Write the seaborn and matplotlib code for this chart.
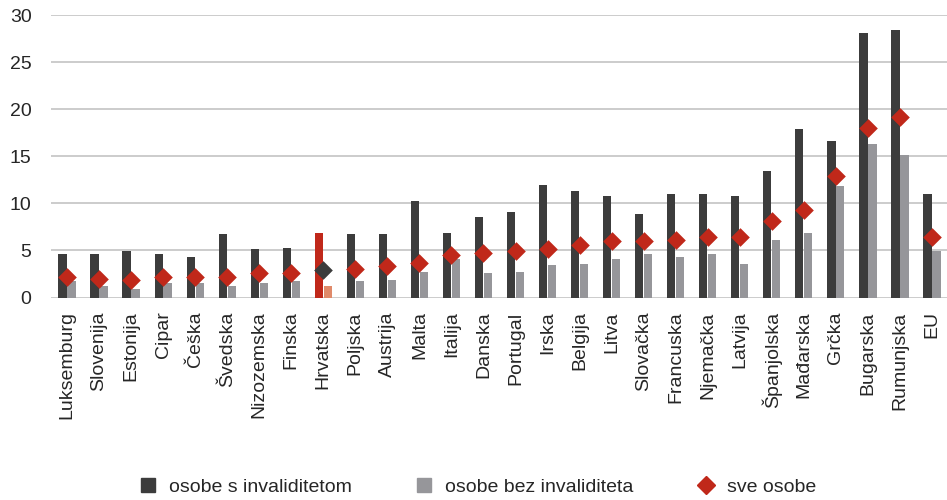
import matplotlib
matplotlib.use("Agg")
import matplotlib.pyplot as plt
from matplotlib.lines import Line2D
import seaborn as sns
import pandas as pd

countries = ["Luksemburg", "Slovenija", "Estonija", "Cipar", "Češka", "Švedska",
             "Nizozemska", "Finska", "Hrvatska", "Poljska", "Austrija", "Malta",
             "Italija", "Danska", "Portugal", "Irska", "Belgija", "Litva",
             "Slovačka", "Francuska", "Njemačka", "Latvija", "Španjolska",
             "Mađarska", "Grčka", "Bugarska", "Rumunjska", "EU"]
with_disability = [4.65, 4.65, 4.9, 4.65, 4.25, 6.7, 5.1, 5.3, 6.9, 6.7, 6.7, 10.3,
                   6.9, 8.6, 9.05, 12.0, 11.35, 10.75, 8.85, 10.95, 10.95, 10.75, 13.4,
                   17.85, 16.6, 28.05, 28.45, 10.95]
without_disability = [1.7, 1.25, 0.85, 1.5, 1.5, 1.25, 1.5, 1.7, 1.25, 1.7, 1.9, 2.75,
                      4.05, 2.55, 2.75, 3.4, 3.6, 4.05, 4.65, 4.25, 4.65, 3.6, 6.15,
                      6.9, 11.8, 16.35, 15.15, 4.9]
all_persons = [2.15, 2.0, 1.9, 2.2, 2.2, 2.2, 2.55, 2.55, 2.9, 3.0, 3.35, 3.7,
               4.5, 4.7, 4.9, 5.1, 5.55, 5.95, 5.95, 6.1, 6.45, 6.4, 8.1,
               9.3, 12.95, 18.05, 19.15, 6.4]
series_names = ["osobe s invaliditetom", "osobe bez invaliditeta", "sve osobe"]
highlight = "Hrvatska"
yticks = [0, 5, 10, 15, 20, 25, 30]

DARK = "#3c3c3c"
LIGHT = "#96969a"
RED = "#c0281a"
SALMON = "#e08a6a"

long_df = pd.DataFrame({
    "country": countries * 2,
    "value": with_disability + without_disability,
    "series": [series_names[0]] * len(countries) + [series_names[1]] * len(countries),
})
pts_df = pd.DataFrame({"country": countries, "value": all_persons})

sns.set_theme(style="white")
plt.rcParams["font.family"] = ["Liberation Sans", "DejaVu Sans"]

fig = plt.figure(figsize=(9.47, 5.0), dpi=100)
ax = fig.add_axes([51 / 947, (500 - 297.5) / 500, 897 / 947, 282.5 / 500])

sns.barplot(data=long_df, x="country", y="value", hue="series",
            palette=[DARK, LIGHT], width=0.56, gap=0.08, dodge=True,
            legend=False, ax=ax, saturation=1, errorbar=None, linewidth=0)

hi = countries.index(highlight)
ax.containers[0].patches[hi].set_facecolor(RED)
ax.containers[1].patches[hi].set_facecolor(SALMON)

pt_palette = {c: (DARK if c == highlight else RED) for c in countries}
sns.stripplot(data=pts_df, x="country", y="value", hue="country",
              palette=pt_palette, jitter=False, marker="D", size=9.5,
              linewidth=0, legend=False, ax=ax, zorder=5)

ax.set_xlim(-0.5, len(countries) - 0.5)
ax.set_ylim(0, 30)
ax.set_yticks(yticks)
ax.set_xlabel("")
ax.set_ylabel("")
for s in ax.spines.values():
    s.set_visible(False)
ax.grid(axis="y", color="#c8c8c8", linewidth=1.3)
ax.set_axisbelow(True)
ax.tick_params(axis="x", length=0, pad=10, labelsize=14, labelcolor="#262626",
               labelrotation=90)
ax.tick_params(axis="y", length=0, pad=14, labelsize=14, labelcolor="#262626")

handles = [
    Line2D([], [], linestyle="none", marker="s", markersize=10, color=DARK),
    Line2D([], [], linestyle="none", marker="s", markersize=10, color=LIGHT),
    Line2D([], [], linestyle="none", marker="D", markersize=9, color=RED),
]
fig.legend(handles, series_names, loc="center", bbox_to_anchor=(0.504, 0.026),
           ncol=3, frameon=False, fontsize=14, handlelength=1.0,
           handletextpad=0.6, columnspacing=3.2, labelcolor="#262626")

fig.savefig("out.png", dpi=100)
